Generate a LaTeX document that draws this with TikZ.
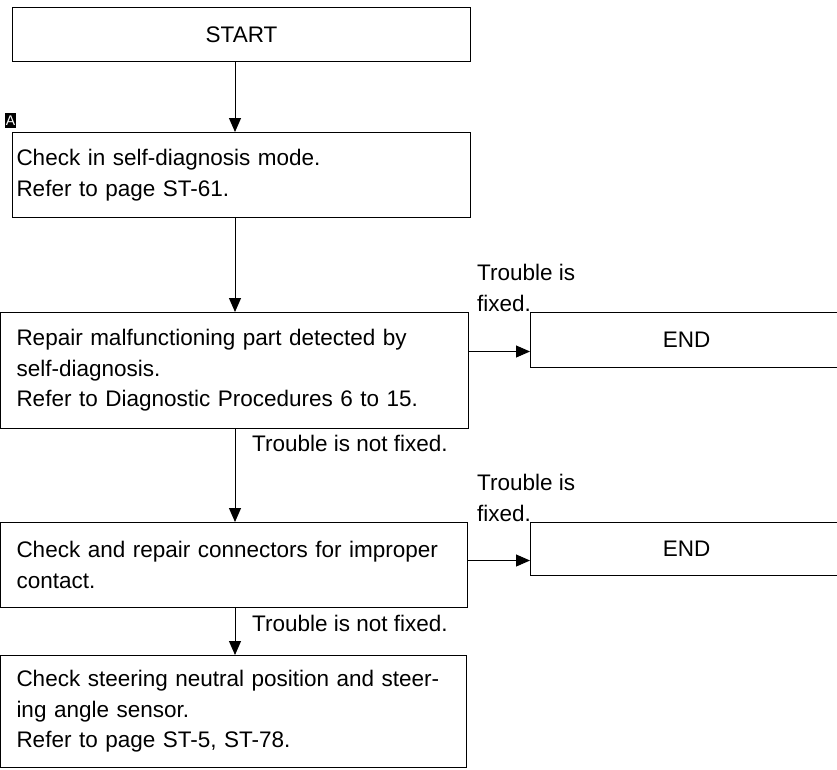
\documentclass[tikz,border=0pt]{standalone}
\usepackage{fontspec}
\setmainfont{Liberation Sans}
\usetikzlibrary{arrows.meta}

\begin{document}
\begin{tikzpicture}[x=1pt, y=-1pt, font=\fontsize{22.5}{30.5}\selectfont,
    box/.style={draw, line width=1pt, anchor=north west, align=left, inner ysep=0pt},
    note/.style={anchor=west, align=left, inner sep=0pt},
    flow/.style={line width=1pt, -{Triangle[length=14pt, width=12pt]}}]
    \useasboundingbox (0,0) rectangle (837,769);
    \clip (0,0) rectangle (837,769);
    \node[box, align=center, inner xsep=0pt, text width=458pt, minimum height=54pt] (start) at (12,7) {START};
    \node[box, inner xsep=4pt, text width=450pt, minimum height=85pt] (selfdiag) at (12,132) {Check in self-diagnosis mode.\\Refer to page ST-61.};
    \node[box, inner xsep=16pt, text width=436pt, minimum height=116pt] (repair) at (0,312) {Repair malfunctioning part detected by\\self-diagnosis.\\Refer to Diagnostic Procedures 6 to 15.};
    \node[box, inner xsep=16pt, text width=435pt, minimum height=85pt] (connect) at (0,522) {Check and repair connectors for improper\\contact.};
    \node[box, inner xsep=16pt, text width=434pt, minimum height=112pt] (steer) at (0,655) {Check steering neutral position and steer-\\ing angle sensor.\\Refer to page ST-5, ST-78.};
    \node[box, align=center, inner xsep=0pt, text width=312pt, minimum height=55pt] (endA) at (530,312) {END};
    \node[box, align=center, inner xsep=0pt, text width=312pt, minimum height=53pt] (endB) at (530,522) {END};
    \node[fill=black, text=white, inner sep=0pt, minimum width=11pt, minimum height=15pt, font=\fontsize{14}{14}\selectfont] (markA) at (10.5,120.5) {A};

    \coordinate (spine) at (235,0);
    \draw[flow] (start.south -| spine) -- (selfdiag.north -| spine);
    \draw[flow] (selfdiag.south -| spine) -- (repair.north -| spine);
    \draw[flow] (repair.south -| spine) -- (connect.north -| spine);
    \draw[flow] (connect.south -| spine) -- (steer.north -| spine);
    \coordinate (inA) at ([yshift=-11.5pt]endA.west);
    \coordinate (inB) at ([yshift=-11.5pt]endB.west);
    \draw[flow] (repair.east |- inA) -- (inA);
    \draw[flow] (connect.east |- inB) -- (inB);

    \node[note] (fixA) at (477,288) {Trouble is\\fixed.};
    \node[note] (fixB) at (477,498) {Trouble is\\fixed.};
    \node[note] (notA) at (252,443) {Trouble is not fixed.};
    \node[note] (notB) at (252,623) {Trouble is not fixed.};
\end{tikzpicture}
\end{document}
